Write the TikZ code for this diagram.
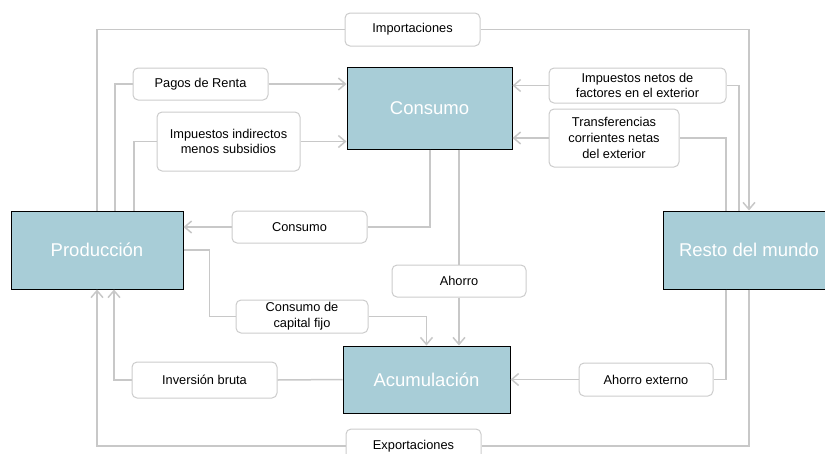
\documentclass[tikz,border=0pt]{standalone}
\usepackage{fontspec}
\setmainfont{Liberation Sans}
\usetikzlibrary{arrows.meta}
\definecolor{boxfill}{HTML}{A8CDD7}
\definecolor{linegray}{HTML}{C8C8C8}
\definecolor{lblborder}{HTML}{CCCCCC}
\begin{document}
\begin{tikzpicture}[x=1pt,y=-1pt,
 sector/.style={draw=black, line width=1pt, fill=boxfill, text=white, font=\fontsize{18.5}{22}\selectfont, inner sep=0pt},
 flowlabel/.style={draw=lblborder, line width=1pt, rounded corners=5pt, fill=white, text=black, font=\fontsize{12.8}{15.8}\selectfont, align=center, inner sep=0pt},
 flow/.style={draw=linegray, line width=1.5pt},
 arr/.style={flow, -{Straight Barb[length=7pt,width=12pt]}}]
\useasboundingbox (0,0) rectangle (825,453);
% sectors
\node[sector, minimum width=165pt, minimum height=82pt] (cons) at (429.5,108) {Consumo};
\node[sector, minimum width=172pt, minimum height=78pt] (prod) at (97,250) {Producción};
\node[sector, minimum width=167pt, minimum height=67pt] (acum) at (426.5,379.5) {Acumulación};
\node[sector, minimum width=172pt, minimum height=78pt] (rm) at (749,250) {Resto del mundo};
% labels
\node[flowlabel, minimum width=135pt, minimum height=33pt] (imp) at (412.5,29.5) {Importaciones};
\node[flowlabel, minimum width=135pt, minimum height=32pt] (pagos) at (200.5,84) {Pagos de Renta};
\node[flowlabel, minimum width=143pt, minimum height=59pt] (indir) at (228.5,141.5) {Impuestos indirectos\\menos subsidios};
\node[flowlabel, minimum width=135pt, minimum height=32pt] (consl) at (299.5,227) {Consumo};
\node[flowlabel, minimum width=132pt, minimum height=33pt] (ccf) at (302,316.5) {Consumo de\\capital fijo};
\node[flowlabel, minimum width=145pt, minimum height=36pt] (inv) at (204.5,380) {Inversión bruta};
\node[flowlabel, minimum width=135pt, minimum height=34pt] (exp) at (413.5,446) {Exportaciones};
\node[flowlabel, minimum width=134pt, minimum height=32pt] (ahorro) at (459,281) {Ahorro};
\node[flowlabel, minimum width=177pt, minimum height=35pt] (netos) at (637.5,85.5) {Impuestos netos de\\factores en el exterior};
\node[flowlabel, minimum width=130pt, minimum height=58pt] (transf) at (614,138) {Transferencias\\corrientes netas\\del exterior};
\node[flowlabel, minimum width=134pt, minimum height=33pt] (ahext) at (646,379.5) {Ahorro externo};
% connectors
\draw[flow] (prod.north) |- (imp.west);
\draw[arr] (imp.east) -| (rm.north);
\draw[flow] ([xshift=18pt]prod.north) |- (pagos.west);
\draw[arr] (pagos.east) -- (pagos.east -| cons.west);
\draw[flow] ([xshift=37pt]prod.north) |- (indir.west);
\draw[arr] (indir.east) -- (indir.east -| cons.west);
\draw[flow] ([xshift=0.5pt]cons.south) |- (consl.east);
\draw[arr] (consl.west) -- (consl.west -| prod.east);
\draw[flow] (cons.south -| ahorro.north) -- (ahorro.north);
\draw[arr] (ahorro.south) -- (ahorro.south |- acum.north);
\coordinate (ccfbend) at ([xshift=26pt]prod.east);
\draw[flow] (prod.east) -- (ccfbend) |- (ccf.west);
\draw[arr] (ccf.east) -| (acum.north);
\draw[flow] (acum.west) -- (inv.east);
\draw[arr] (inv.west) -| ([xshift=17pt]prod.south);
\draw[flow] (rm.south) |- (exp.east);
\draw[arr] (exp.west) -| (prod.south);
\draw[flow] ([xshift=-10pt]rm.north) |- (netos.east);
\draw[arr] (netos.west) -- (netos.west -| cons.east);
\draw[flow] ([xshift=-23pt]rm.north) |- (transf.east);
\draw[arr] (transf.west) -- (transf.west -| cons.east);
\draw[flow] ([xshift=-23pt]rm.south) |- (ahext.east);
\draw[arr] (ahext.west) -- (ahext.west -| acum.east);
\end{tikzpicture}
\end{document}
